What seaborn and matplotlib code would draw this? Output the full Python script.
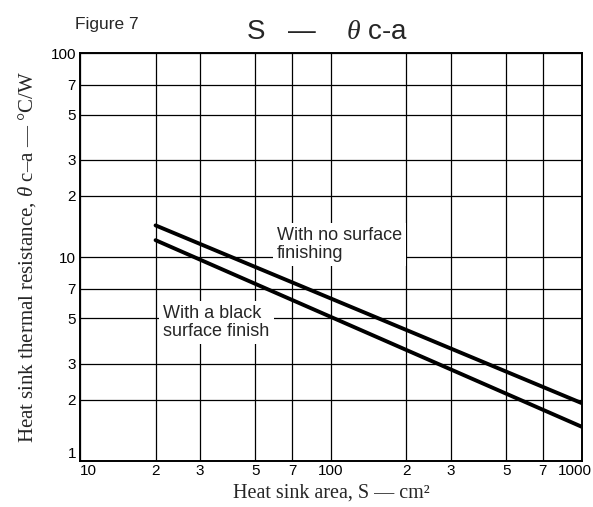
import pandas as pd
import seaborn as sns
import matplotlib.pyplot as plt
from matplotlib.transforms import ScaledTranslation

area = [20, 1000]
no_finish = [14.3, 1.92]
black_finish = [12.1, 1.47]

x_ticks = [10, 20, 30, 50, 70, 100, 200, 300, 500, 700, 1000]
x_labels = ['10', '2', '3', '5', '7', '100', '2', '3', '5', '7', '1000']
y_ticks = [1, 2, 3, 5, 7, 10, 20, 30, 50, 70, 100]
y_labels = ['1', '2', '3', '5', '7', '10', '2', '3', '5', '7', '100']

df = pd.DataFrame({
    'area': area * 2,
    'theta': no_finish + black_finish,
    'finish': ['none'] * 2 + ['black'] * 2,
})

sns.set_style('white')
plt.rcParams['font.family'] = ['Liberation Sans', 'DejaVu Sans']
plt.rcParams['mathtext.fontset'] = 'custom'
plt.rcParams['mathtext.it'] = 'Liberation Serif:italic'
plt.rcParams['mathtext.rm'] = 'Liberation Serif'

fig = plt.figure(figsize=(5.93, 5.07), dpi=100)
ax = fig.add_axes([0.135, 0.091, 0.846, 0.804])

sns.lineplot(data=df, x='area', y='theta', units='finish', estimator=None,
             color='black', linewidth=2.8, ax=ax, legend=False)

ax.set_xscale('log')
ax.set_yscale('log')
ax.set_xlim(10, 1000)
ax.set_ylim(1, 100)
ax.set_xticks(x_ticks, labels=x_labels)
ax.set_yticks(y_ticks, labels=y_labels)
ax.minorticks_off()
ax.tick_params(length=0, labelsize=11, colors='black')
ax.tick_params(axis='y', pad=3)
ax.tick_params(axis='x', pad=2)
ax.grid(True, which='major', color='black', linewidth=0.9)
for s in ax.spines.values():
    s.set_color('black')
    s.set_linewidth(1.4)

# end labels sit inside the corners like the original
xl = ax.get_xticklabels()
xl[0].set_horizontalalignment('left')
xl[-1].set_transform(xl[-1].get_transform() + ScaledTranslation(-0.07, 0, fig.dpi_scale_trans))
yl = ax.get_yticklabels()
yl[0].set_verticalalignment('bottom')

ax.set_xlabel('Heat sink area, S — cm²', family='Liberation Serif', fontsize=14.5, labelpad=4)
ax.set_ylabel(r'Heat sink thermal resistance, $\theta$ c–a — °C/W',
              family='Liberation Serif', fontsize=15, labelpad=9)

box = dict(facecolor='white', edgecolor='none', pad=3)
ax.text(61, 14.0, 'With no surface\nfinishing', fontsize=13, va='top', ha='left',
        linespacing=1.05, bbox=box)
ax.text(21.5, 5.8, 'With a black\nsurface finish', fontsize=13, va='top', ha='left',
        linespacing=1.05, bbox=box)

fig.text(0.127, 0.952, 'Figure 7', fontsize=12.5, va='center')
fig.text(0.551, 0.937, r'S   —    $\theta$ c-a', fontsize=20, ha='center', va='center')

fig.savefig('out.png', dpi=100)
